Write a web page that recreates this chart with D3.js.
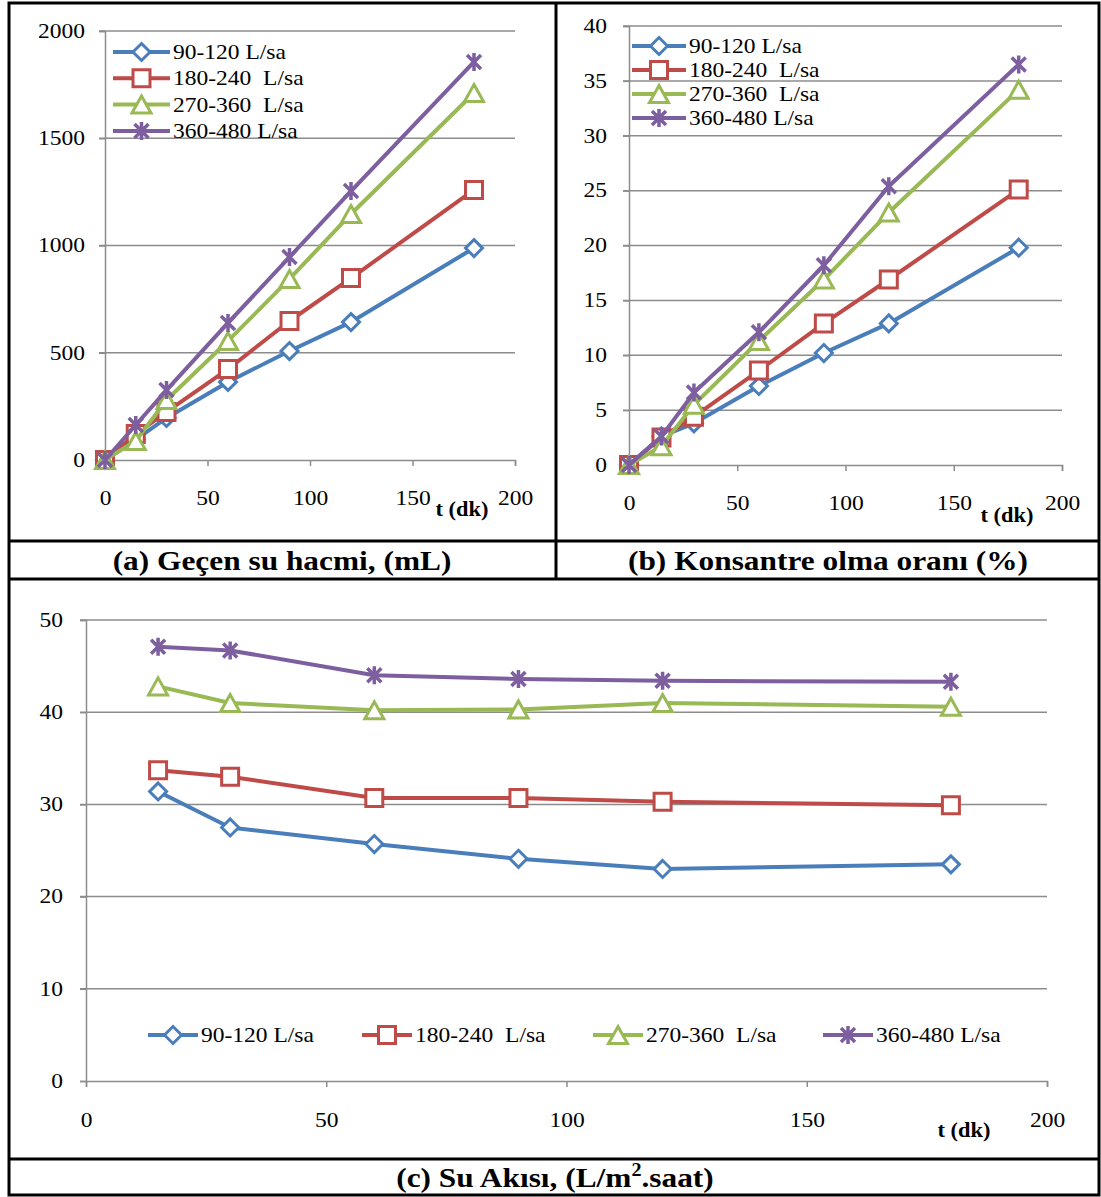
<!DOCTYPE html>
<html>
<head>
<meta charset="utf-8">
<style>
  body { margin: 0; background: #fff; }
  svg { font-family: "Liberation Serif", "Times New Roman", serif; }
</style>
</head>
<body>
<script src="https://d3js.org/d3.v7.min.js"></script>
<script>
// data
var seriesNames = ["90-120 L/sa", "180-240  L/sa", "270-360  L/sa", "360-480 L/sa"];
var colors = ["#4A7EBB", "#BE4B48", "#98B954", "#7D5FA0"];
var markers = ["diamond", "square", "triangle", "star"];

var timeAB = [0, 15, 30, 60, 90, 120, 180];
var volBlue   = [0, 95, 196, 364, 508, 643, 988];
var volRed    = [0, 121, 224, 424, 648, 848, 1259];
var volGreen  = [0, 89, 280, 555, 844, 1147, 1711];
var volPurple = [0, 163, 326, 639, 946, 1254, 1856];

var concBlue   = [0, 2.6, 3.8, 7.2, 10.2, 12.9, 19.8];
var concRed    = [0, 2.5, 4.4, 8.6, 12.9, 16.9, 25.1];
var concGreen  = [0, 1.7, 5.5, 11.3, 16.9, 23.0, 34.2];
var concPurple = [0, 2.6, 6.6, 12.1, 18.2, 25.4, 36.5];

var timeC = [15, 30, 60, 90, 120, 180];
var fluxBlue   = [31.4, 27.5, 25.7, 24.1, 23.0, 23.5];
var fluxRed    = [33.7, 33.0, 30.7, 30.7, 30.3, 29.9];
var fluxGreen  = [42.8, 41.0, 40.2, 40.3, 41.0, 40.6];
var fluxPurple = [47.1, 46.7, 44.0, 43.6, 43.4, 43.3];

var xTicks = [0, 50, 100, 150, 200];
var volTicks = [0, 500, 1000, 1500, 2000];
var concTicks = [0, 5, 10, 15, 20, 25, 30, 35, 40];
var fluxTicks = [0, 10, 20, 30, 40, 50];

var captions = ["(a) Geçen su hacmi, (mL)", "(b) Konsantre olma oranı (%)"];

var STRETCH = 1.12; // the reference text is wide

var svg = d3.select("body").append("svg")
  .attr("width", 1101).attr("height", 1197);

// table frame
var frame = svg.append("g").attr("stroke", "#000").attr("stroke-width", 3);
frame.append("rect").attr("x", 9).attr("y", 3).attr("width", 1090).attr("height", 1192).attr("fill", "none");
frame.append("line").attr("x1", 9).attr("x2", 1099).attr("y1", 541).attr("y2", 541);
frame.append("line").attr("x1", 9).attr("x2", 1099).attr("y1", 579).attr("y2", 579);
frame.append("line").attr("x1", 9).attr("x2", 1099).attr("y1", 1159).attr("y2", 1159);
frame.append("line").attr("x1", 556).attr("x2", 556).attr("y1", 3).attr("y2", 579);

function markerPath(type) {
  var s = 8.5;
  if (type == "diamond") return "M0," + (-s) + "L" + s + ",0L0," + s + "L" + (-s) + ",0Z";
  if (type == "square") return "M" + (-s) + "," + (-s) + "H" + s + "V" + s + "H" + (-s) + "Z";
  if (type == "triangle") return "M0," + (-s) + "L" + (s + 1) + "," + s + "H" + (-s - 1) + "Z";
  return "M-7,-7L7,7M7,-7L-7,7M0,-9V9";
}

function drawMarker(g, type, color, x, y) {
  g.append("path")
    .attr("d", markerPath(type))
    .attr("transform", "translate(" + x + "," + y + ")")
    .attr("fill", type == "star" ? "none" : "#fff")
    .attr("stroke", color)
    .attr("stroke-width", type == "star" ? 3.5 : 3);
}

function drawChart(o) {
  var x = d3.scaleLinear().domain([0, 200]).range([o.x0, o.x1]);
  var y = d3.scaleLinear().domain([0, o.yMax]).range([o.y0, o.y1]);
  var g = svg.append("g");

  // gridlines
  g.selectAll(".grid").data(o.yTicks.slice(1)).enter().append("line")
    .attr("x1", o.x0 - 6).attr("x2", o.x1)
    .attr("y1", d => y(d)).attr("y2", d => y(d))
    .attr("stroke", "#8c8c8c").attr("stroke-width", 1.5);

  // axes
  var yAxis = g.append("g").attr("transform", "translate(" + o.x0 + ",0)")
    .call(d3.axisLeft(y).tickValues(o.yTicks).tickSize(6).tickFormat(d3.format("d")));
  var xAxis = g.append("g").attr("transform", "translate(0," + o.y0 + ")")
    .call(d3.axisBottom(x).tickValues(xTicks).tickSize(6).tickFormat(d3.format("d")));
  [xAxis, yAxis].forEach(function(a) {
    a.select(".domain").attr("stroke", "#8c8c8c").attr("stroke-width", 1.5);
    a.selectAll(".tick line").attr("stroke", "#8c8c8c").attr("stroke-width", 1.5);
    a.selectAll("text").attr("fill", "#000").style("font-size", "21px")
      .style("font-family", "Liberation Serif");
  });
  yAxis.selectAll("text").attr("x", -o.yLabelGap).attr("dy", "0.3em");
  xAxis.selectAll("text").attr("x", 0).attr("y", o.xLabelGap).attr("dy", "0");

  g.append("text").attr("x", o.tx).attr("y", o.ty)
    .attr("text-anchor", "middle").attr("font-weight", "bold").attr("font-size", 20)
    .text("t (dk)");

  var line = d3.line().x(d => x(d[0])).y(d => y(d[1]));
  o.series.forEach(function(vals, i) {
    var pts = o.times.map((t, k) => [t, vals[k]]);
    g.append("path").datum(pts).attr("d", line)
      .attr("fill", "none").attr("stroke", colors[i]).attr("stroke-width", 4)
      .attr("stroke-linejoin", "round");
    pts.forEach(function(p) { drawMarker(g, markers[i], colors[i], x(p[0]), y(p[1])); });
  });

  // legend
  seriesNames.forEach(function(name, i) {
    var lx = o.legend.xs ? o.legend.xs[i] : o.legend.x;
    var ly = o.legend.y + (o.legend.dy || 0) * i;
    g.append("line").attr("x1", lx).attr("x2", lx + o.legend.len)
      .attr("y1", ly).attr("y2", ly).attr("stroke", colors[i]).attr("stroke-width", 4);
    drawMarker(g, markers[i], colors[i], lx + o.legend.len / 2, ly);
    g.append("text").attr("x", lx + o.legend.len + 3).attr("y", ly + 7)
      .attr("font-size", 21).style("white-space", "pre").text(name);
  });
}

drawChart({
  x0: 105, x1: 515, y0: 460, y1: 31, yMax: 2000, yTicks: volTicks,
  times: timeAB, series: [volBlue, volRed, volGreen, volPurple],
  yLabelGap: 20, xLabelGap: 45, tx: 462, ty: 516,
  legend: {x: 113, y: 52, dy: 26.3, len: 57}
});

drawChart({
  x0: 629, x1: 1062, y0: 465, y1: 26, yMax: 40, yTicks: concTicks,
  times: timeAB, series: [concBlue, concRed, concGreen, concPurple],
  yLabelGap: 22, xLabelGap: 45, tx: 1007, ty: 522,
  legend: {x: 632, y: 46, dy: 24, len: 54}
});

drawChart({
  x0: 86, x1: 1047, y0: 1081, y1: 620, yMax: 50, yTicks: fluxTicks,
  times: timeC, series: [fluxBlue, fluxRed, fluxGreen, fluxPurple],
  yLabelGap: 23, xLabelGap: 46, tx: 964, ty: 1137,
  legend: {xs: [148, 362, 593, 823], y: 1035, len: 50}
});

// captions
var capG = svg.append("g").attr("font-weight", "bold").attr("font-size", 28).attr("text-anchor", "middle");
capG.append("text").attr("x", 282).attr("y", 570).text(captions[0]);
capG.append("text").attr("x", 828).attr("y", 570).text(captions[1]);
var capC = capG.append("text").attr("x", 555).attr("y", 1187);
capC.append("tspan").text("(c) Su Akısı, (L/m");
capC.append("tspan").attr("font-size", 18).attr("dy", -11).text("2");
capC.append("tspan").attr("dy", 11).text(".saat)");

// widen every label around its anchor point, like the reference
svg.selectAll("text").each(function() {
  var t = d3.select(this);
  var ax = +t.attr("x") || 0;
  t.attr("transform", "translate(" + (ax * (1 - STRETCH)) + ",0) scale(" + STRETCH + ",1)");
});
</script>
</body>
</html>
